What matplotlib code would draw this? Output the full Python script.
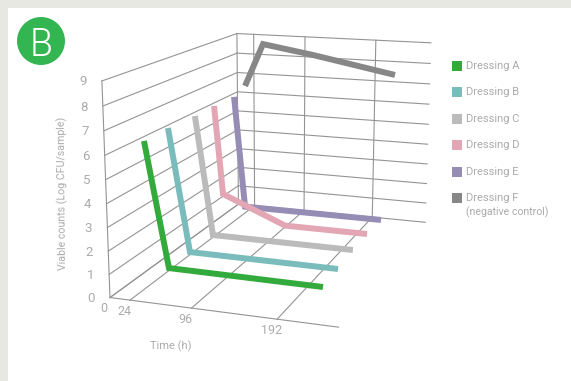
import numpy as np
import matplotlib
matplotlib.use('Agg')
import matplotlib.pyplot as plt
from matplotlib.patches import Rectangle, Circle
from mpl_toolkits.mplot3d import proj3d

plt.rcParams['font.family'] = ['Roboto', 'DejaVu Sans']

# Viable counts, hours on the time axis and log CFU/sample
names = ['Dressing A', 'Dressing B', 'Dressing C', 'Dressing D', 'Dressing E', 'Dressing F']
colors = ['#33AB3C', '#7ABCBC', '#BBBBBB', '#E3A6B4', '#968DB5', '#878787']
depth = [0.277, 0.441, 0.630, 0.807, 0.977, 1.0]
time_a = [-6.1, 21.3, 208.7]
count_a = [5.69, 0.03, 0.0]
time_b = [-5.0, 20.4, 207.5]
count_b = [5.77, 0.01, 0.0]
time_c = [-1.5, 20.5, 205.1]
count_c = [5.79, 0.0, 0.0]
time_d = [-3.8, 7.3, 94.0, 204.6]
count_d = [5.78, 1.32, 0.0, 0.0]
time_e = [-1.5, 13.2, 206.3]
count_e = [5.79, 0.0, 0.0]
time_f = [11.1, 37.2, 107.2, 218.4]
count_f = [6.33, 8.53, 8.11, 7.34]
times = [time_a, time_b, time_c, time_d, time_e, time_f]
counts = [count_a, count_b, count_c, count_d, count_e, count_f]

time_ticks = [0, 24, 96, 192]
count_ticks = list(range(10))
time_end = 264
front_end = 258

W, H = 571, 381
text_col = '#ABABAB'
grid_col = '#949494'

fig = plt.figure(figsize=(W / 100, H / 100), dpi=100, facecolor='#E8E8E3')

# flat layer in pixels for the panel, badge and legend
bg = fig.add_axes([0, 0, 1, 1])
bg.set_xlim(0, W)
bg.set_ylim(H, 0)
bg.axis('off')
bg.add_patch(Rectangle((8, 8), W, H, color='white', lw=0))
bg.add_patch(Circle((41, 41), 24, color='#33B552', lw=0))
bg.text(41.5, 41, 'B', color='white', fontsize=27, fontweight=300, ha='center', va='center_baseline')

for i, (name, col) in enumerate(zip(names, colors)):
    y = 66 + 26.4 * i
    bg.add_patch(Rectangle((452, y - 5), 10, 10, color=col, lw=0))
    bg.text(466, y, name, color=text_col, fontsize=8, va='center')
bg.text(466, 212, '(negative control)', color=text_col, fontsize=7.6, va='center')

bg.text(63, 193.5, 'Viable counts (Log CFU/sample)', color=text_col, fontsize=7.7, rotation=90.5,
        ha='center', va='center')
bg.text(171, 346, 'Time (h)', color=text_col, fontsize=8, ha='center', va='center')

# 3D chart, axes placed so the box lands where it is in the reference
s, ox, oy = 2340.2, 283.07, 220.85
side = s * 0.185
ax = fig.add_axes([(ox - s * 0.095) / W, (oy - s * 0.095) / H, side / W, side / H],
                  projection='3d', computed_zorder=False)
ax.patch.set_alpha(0)
ax.set_axis_off()
ax.set_xlim(0, time_end)
ax.set_ylim(0, 1)
ax.set_zlim(0, 9)
ax.view_init(13.9319, -71.0462, -0.0484)
ax.set_proj_type('persp', focal_length=0.4941)
ax.set_box_aspect((1.1092, 1.6237, 1))


def to_pixels(t, d, v):
    X, Y, _ = proj3d.proj_transform(np.array([t], float), np.array([d], float), np.array([v], float), ax.get_proj())
    return s * X[0] + ox, H - (s * Y[0] + oy)


gl = dict(color=grid_col, lw=0.8, zorder=1)
for v in count_ticks:
    ax.plot([0, 0], [0, 1], [v, v], **gl)
    ax.plot([0, time_end], [1, 1], [v, v], **gl)
    px, py = to_pixels(0, 0, v)
    bg.text(px - 19, py + 1, str(v), color=text_col, fontsize=9.5, ha='center', va='center')
ax.plot([0, 0], [0, 0], [0, 9], **gl)
ax.plot([0, front_end], [0, 0], [0, 0], **gl)
for t in time_ticks:
    ax.plot([t, t], [1, 1], [0, 9], **gl)
    ax.plot([t, t], [0, 1], [0, 0], **gl)
    px, py = to_pixels(t, 0, 0)
    bg.text(px - 6, py + 11, str(t), color=text_col, fontsize=9, ha='center', va='center')

for i in range(5, -1, -1):
    ax.plot(times[i], [depth[i]] * len(times[i]), counts[i], color=colors[i], lw=4.3,
            solid_capstyle='butt', solid_joinstyle='miter', zorder=10 - i)

fig.savefig('out.png', dpi=100, facecolor=fig.get_facecolor())
